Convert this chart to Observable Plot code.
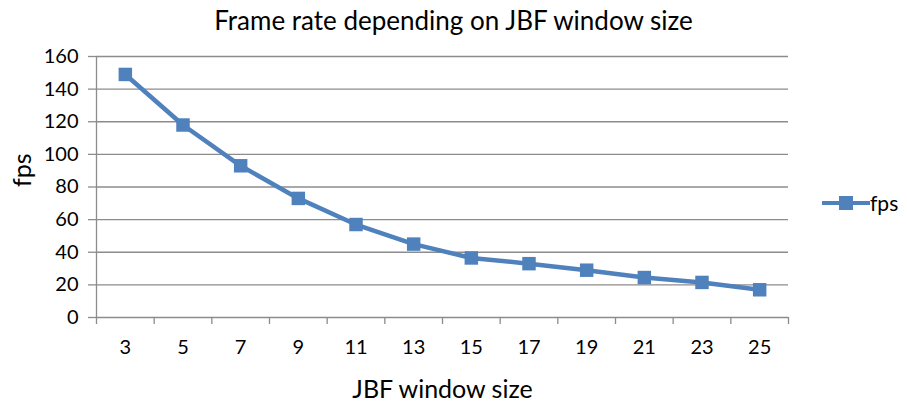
<!DOCTYPE html>
<html>
<head>
<meta charset="utf-8">
<script src="https://cdn.jsdelivr.net/npm/d3@7"></script>
<script src="https://cdn.jsdelivr.net/npm/@observablehq/plot@0.6"></script>
<style>
  html, body { margin: 0; padding: 0; background: #fff; }
  #wrap { position: relative; width: 907px; height: 405px; font-family: Lato, "Open Sans", sans-serif; color: #000; }
  #title { position: absolute; left: 0; top: 5px; width: 907px; text-align: center; font-size: 26px; line-height: 30px; }
  #plot { position: absolute; left: 0; top: 36px; }
  #legend { position: absolute; left: 822px; top: 190px; display: flex; align-items: center; font-size: 21px; }
  #legend .key { position: relative; width: 48px; height: 14px; }
  #legend .key .ln { position: absolute; left: 0; top: 5px; width: 48px; height: 4.5px; background: #4F81BD; }
  #legend .key .sq { position: absolute; left: 17px; top: 0; width: 14px; height: 14px; background: #4F81BD; }
</style>
</head>
<body>
<div id="wrap">
  <div id="title">Frame rate depending on JBF window size</div>
  <div id="plot"></div>
  <div id="legend"><div class="key"><div class="ln"></div><div class="sq"></div></div><span>fps</span></div>
</div>
<script>
// JBF window sizes and the measured frame rate for each
const windowSizes = [3, 5, 7, 9, 11, 13, 15, 17, 19, 21, 23, 25];
const fps = [149, 118, 93, 73, 57, 45, 36.5, 33, 29, 24.5, 21.5, 17];
const yTicks = [0, 20, 40, 60, 80, 100, 120, 140, 160];
const xTitle = "JBF window size";
const yTitle = "fps";

const data = windowSizes.map((w, i) => ({ w, fps: fps[i] }));

// category boundaries (tick marks sit between the window sizes)
const step = windowSizes[1] - windowSizes[0];
const bounds = [windowSizes[0] - step / 2, ...windowSizes.map(w => w + step / 2)];

const blue = "#4F81BD";
const grid = "#8c8c8c";

const chart = Plot.plot({
  width: 907,
  height: 369,
  marginTop: 20,
  marginLeft: 96,
  marginRight: 119,
  marginBottom: 88,
  style: { fontFamily: "Lato, 'Open Sans', sans-serif", fontSize: "20px", color: "#000", background: "#fff" },
  x: { domain: [bounds[0], bounds[bounds.length - 1]] },
  y: { domain: [yTicks[0], yTicks[yTicks.length - 1]] },
  marks: [
    Plot.ruleY(yTicks, { stroke: grid, strokeWidth: 1.3 }),
    Plot.ruleX([bounds[0]], { stroke: grid, strokeWidth: 1.3 }),
    Plot.axisY({ ticks: yTicks, tickSize: 8, tickPadding: 10, stroke: grid, strokeWidth: 1.3, strokeOpacity: 1,
      label: null, fontSize: 20 }),
    Plot.axisX({ ticks: bounds, tickSize: 7, tickFormat: () => "", stroke: grid, strokeWidth: 1.3, strokeOpacity: 1, label: null }),
    Plot.axisX({ ticks: windowSizes, tickSize: 0, tickPadding: 22, tickFormat: d => String(d), fontSize: 20, label: null }),
    // axis titles
    Plot.text([xTitle], { frameAnchor: "bottom", dy: 72, fontSize: 25, lineAnchor: "middle" }),
    Plot.text([yTitle], { frameAnchor: "left", dx: -74, rotate: -90, fontSize: 25, lineAnchor: "middle" }),
    Plot.line(data, { x: "w", y: "fps", stroke: blue, strokeWidth: 4.5 }),
    Plot.dot(data, { x: "w", y: "fps", symbol: "square", r: 7.6, fill: blue, stroke: "none" })
  ]
});
document.getElementById("plot").appendChild(chart);
</script>
</body>
</html>
